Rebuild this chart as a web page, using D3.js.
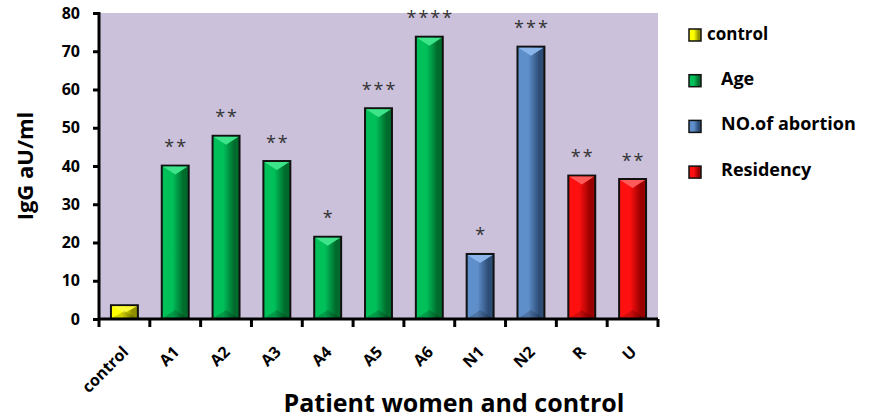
<!DOCTYPE html>
<html>
<head>
<meta charset="utf-8">
<script src="https://cdn.jsdelivr.net/npm/d3@7"></script>
<style>
  body { margin: 0; background: #fff; }
  text { font-family: "Open Sans", Lato, sans-serif; }
</style>
</head>
<body>
<svg id="chart" width="870" height="419"></svg>
<script>
// values
var categories = ['control', 'A1', 'A2', 'A3', 'A4', 'A5', 'A6', 'N1', 'N2', 'R', 'U'];
var values = [3.6, 40.1, 47.9, 41.3, 21.5, 55.1, 73.8, 17.0, 71.2, 37.5, 36.6];
var groups = ['control', 'Age', 'Age', 'Age', 'Age', 'Age', 'Age', 'NO.of abortion', 'NO.of abortion', 'Residency', 'Residency'];
var stars = ['', '**', '**', '**', '*', '***', '****', '*', '***', '**', '**'];
var legendNames = ['control', 'Age', 'NO.of abortion', 'Residency'];
var yTicks = [0, 10, 20, 30, 40, 50, 60, 70, 80];

var colors = {
  'control': ['#8f8f00', '#ffff00', '#fbfb3a'],
  'Age': ['#006b2c', '#00c05a', '#3ee48a'],
  'NO.of abortion': ['#2d4d77', '#5f8fcb', '#8ab5ea'],
  'Residency': ['#9a0000', '#ff1010', '#ff5a5a']
};

var svg = d3.select('#chart');
var plotLeft = 99, plotRight = 658, plotTop = 13, plotBottom = 319;

var x = d3.scaleBand().domain(categories).range([plotLeft, plotRight]).paddingInner(0.47).paddingOuter(0.235);
var xTick = d3.scaleBand().domain(categories).range([plotLeft, plotRight]);
var y = d3.scaleLinear().domain([0, 80]).range([plotBottom, plotTop]);

// gradients for the bars
var defs = svg.append('defs');
legendNames.forEach(function (g, i) {
  var grad = defs.append('linearGradient').attr('id', 'grad' + i)
    .attr('x1', '0%').attr('x2', '100%').attr('y1', '0%').attr('y2', '0%');
  grad.append('stop').attr('offset', '0%').attr('stop-color', colors[g][1]);
  grad.append('stop').attr('offset', '40%').attr('stop-color', colors[g][1]);
  grad.append('stop').attr('offset', '80%').attr('stop-color', colors[g][0]);
  grad.append('stop').attr('offset', '100%').attr('stop-color', colors[g][0]);
});
function gradId(g) { return 'url(#grad' + legendNames.indexOf(g) + ')'; }

// plot background
svg.append('rect')
  .attr('x', plotLeft).attr('y', plotTop)
  .attr('width', plotRight - plotLeft).attr('height', plotBottom - plotTop)
  .attr('fill', '#cbc1db');

var data = categories.map(function (c, i) {
  return { cat: c, value: values[i], group: groups[i], star: stars[i] };
});

var bars = svg.selectAll('.bar').data(data).enter().append('g').attr('class', 'bar');

bars.append('rect')
  .attr('x', function (d) { return x(d.cat); })
  .attr('y', function (d) { return y(d.value); })
  .attr('width', x.bandwidth())
  .attr('height', function (d) { return y(0) - y(d.value); })
  .attr('fill', function (d) { return gradId(d.group); })
  .attr('stroke', '#111')
  .attr('stroke-width', 2);

// bevel triangles at top and bottom of each bar
bars.append('path')
  .attr('d', function (d) {
    var x0 = x(d.cat) + 1, x1 = x(d.cat) + x.bandwidth() - 1, yt = y(d.value) + 1;
    var h = Math.min(8, (y(0) - y(d.value)) / 2);
    return 'M' + x0 + ',' + yt + 'L' + x1 + ',' + yt + 'L' + ((x0 + x1) / 2) + ',' + (yt + h) + 'Z';
  })
  .attr('fill', function (d) { return colors[d.group][2]; });
bars.append('path')
  .attr('d', function (d) {
    var x0 = x(d.cat) + 1, x1 = x(d.cat) + x.bandwidth() - 1, yb = y(0) - 1;
    var h = Math.min(8, (y(0) - y(d.value)) / 2);
    return 'M' + x0 + ',' + yb + 'L' + x1 + ',' + yb + 'L' + ((x0 + x1) / 2) + ',' + (yb - h) + 'Z';
  })
  .attr('fill', '#000').attr('opacity', 0.18);

bars.append('text')
  .attr('x', function (d) { return x(d.cat) + x.bandwidth() / 2; })
  .attr('dx', 1)
  .attr('y', function (d) { return y(d.value) - 12.5; })
  .attr('text-anchor', 'middle')
  .attr('font-family', '"DejaVu Sans", sans-serif')
  .attr('font-size', 18)
  .attr('letter-spacing', 2)
  .attr('fill', '#333')
  .text(function (d) { return d.star; });

// axes
var yAxis = svg.append('g')
  .attr('transform', 'translate(' + plotLeft + ',0)')
  .call(d3.axisLeft(y).tickValues(yTicks).tickSize(6).tickPadding(13));
var xAxis = svg.append('g')
  .attr('transform', 'translate(0,' + plotBottom + ')')
  .call(d3.axisBottom(xTick).tickSize(0).tickFormat(''));

// ticks sit on band edges like the original
xAxis.selectAll('.tick').remove();
xAxis.selectAll('.edge').data(categories.concat(['end'])).enter().append('line')
  .attr('class', 'edge')
  .attr('x1', function (d, i) { return i < categories.length ? xTick(d) : plotRight; })
  .attr('x2', function (d, i) { return i < categories.length ? xTick(d) : plotRight; })
  .attr('y1', 0).attr('y2', 8)
  .attr('stroke', '#000').attr('stroke-width', 3);

[yAxis, xAxis].forEach(function (a) {
  a.select('.domain').attr('stroke', '#000').attr('stroke-width', 3);
  a.selectAll('.tick line').attr('stroke', '#000').attr('stroke-width', 3);
});
xAxis.select('.domain').attr('d', 'M' + plotLeft + ',0H' + plotRight);
yAxis.select('.domain').attr('d', 'M0,' + (plotTop - 1) + 'V' + plotBottom);
yAxis.selectAll('.tick text')
  .attr('font-family', '"Open Sans", sans-serif')
  .attr('font-size', 16).attr('font-weight', 'bold').attr('fill', '#000');

// rotated category labels
svg.selectAll('.xlabel').data(categories).enter().append('text')
  .attr('class', 'xlabel')
  .attr('transform', function (d) {
    var cx = xTick(d) + xTick.bandwidth() / 2 + 5;
    return 'translate(' + cx + ',' + (plotBottom + 34) + ') rotate(-45)';
  })
  .attr('text-anchor', 'end')
  .attr('font-size', 16).attr('font-weight', 'bold')
  .text(function (d) { return d; });

// axis titles
svg.append('text')
  .attr('transform', 'translate(33,' + 166 + ') rotate(-90)')
  .attr('text-anchor', 'middle')
  .attr('font-size', 22).attr('font-weight', 'bold')
  .text('IgG aU/ml');

svg.append('text')
  .attr('x', 454).attr('y', 412)
  .attr('text-anchor', 'middle')
  .attr('font-size', 25).attr('font-weight', 'bold')
  .text('Patient women and control');

// legend
var legend = svg.selectAll('.legend').data(legendNames).enter().append('g')
  .attr('class', 'legend')
  .attr('transform', function (d, i) { return 'translate(689,' + (29 + i * 45.7) + ')'; });
legend.append('rect')
  .attr('width', 12).attr('height', 12)
  .attr('fill', function (d) { return gradId(d); })
  .attr('stroke', '#111').attr('stroke-width', 1.5);
legend.append('text')
  .attr('x', function (d, i) { return i === 0 ? 18 : 32; })
  .attr('y', function (d, i) { return i === 0 ? 11 : 10; })
  .attr('font-size', function (d, i) { return i === 0 ? 17 : 18; })
  .attr('font-weight', 'bold')
  .text(function (d) { return d; });
</script>
</body>
</html>
